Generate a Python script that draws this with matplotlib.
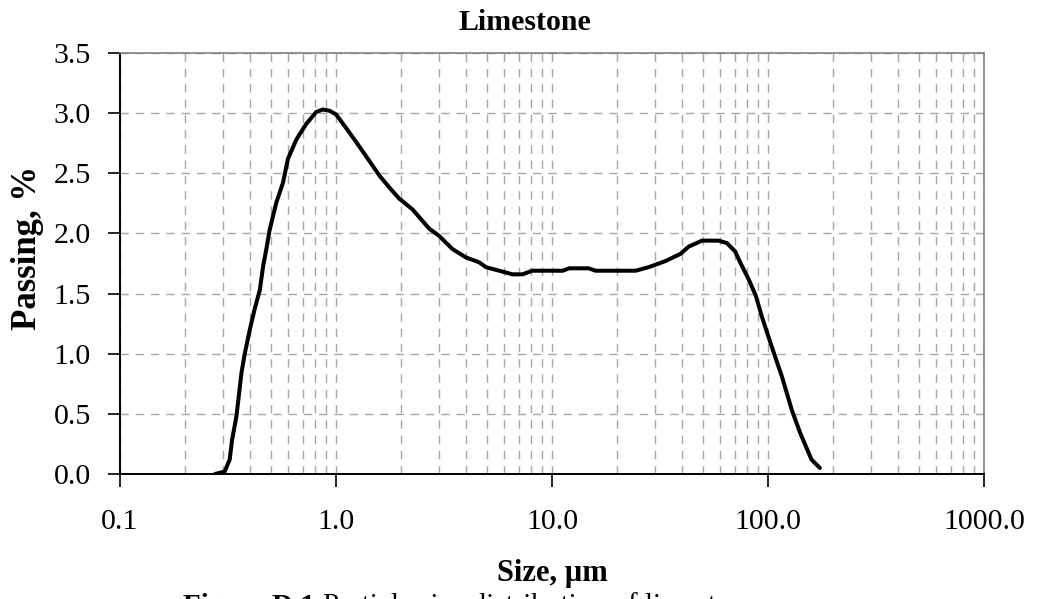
import matplotlib
matplotlib.use("Agg")
import matplotlib.pyplot as plt
from matplotlib.ticker import FixedLocator, FixedFormatter, LogLocator, NullFormatter

# ================== DATA ==================
size_um = [0.275, 0.305, 0.322, 0.33, 0.346, 0.365, 0.378, 0.399, 0.42, 0.444,
           0.46, 0.476, 0.493, 0.53, 0.568, 0.599, 0.655, 0.728, 0.81, 0.869,
           0.933, 1.0, 1.11, 1.24, 1.43, 1.59, 1.77, 1.96, 2.26, 2.7,
           3.0, 3.46, 4.0, 4.6, 4.94, 5.69, 6.56, 7.3, 8.1, 8.87,
           11.2, 12.0, 14.8, 15.9, 24.4, 28.1, 33.5, 39.3, 42.9, 49.5,
           59.0, 64.5, 70.5, 74.3, 81.3, 87.9, 93.6, 104.0, 116.0, 129.0,
           141.0, 159.0, 174.0]
passing = [0.0, 0.02, 0.12, 0.28, 0.48, 0.84, 1.0, 1.2, 1.37, 1.53,
           1.73, 1.87, 2.03, 2.26, 2.42, 2.62, 2.78, 2.91, 3.01, 3.03,
           3.02, 2.99, 2.88, 2.76, 2.6, 2.48, 2.38, 2.29, 2.2, 2.04,
           1.98, 1.87, 1.8, 1.76, 1.72, 1.69, 1.66, 1.66, 1.69, 1.69,
           1.69, 1.71, 1.71, 1.69, 1.69, 1.72, 1.77, 1.83, 1.89, 1.94,
           1.94, 1.92, 1.85, 1.76, 1.62, 1.48, 1.31, 1.06, 0.81, 0.53,
           0.34, 0.12, 0.05]

x_ticks = [0.1, 1, 10, 100, 1000]
x_labels = ["0.1", "1.0", "10.0", "100.0", "1000.0"]
y_ticks = [0.0, 0.5, 1.0, 1.5, 2.0, 2.5, 3.0, 3.5]

# ================== PLOT ==================
plt.rcParams["font.family"] = ["Liberation Serif", "DejaVu Serif"]

W, H = 1039, 599
fig = plt.figure(figsize=(W / 100, H / 100), dpi=100)
ax = fig.add_axes([120 / W, 1 - 474 / H, (984 - 120) / W, (474 - 53) / H])

grid_kw = dict(color="#a6a6a6", linestyle=(0, (6, 5)), linewidth=1.0)

ax.set_xscale("log")
ax.set_xlim(0.1, 1000)
ax.set_ylim(0, 3.5)

ax.xaxis.set_major_locator(FixedLocator(x_ticks))
ax.xaxis.set_major_formatter(FixedFormatter(x_labels))
ax.xaxis.set_minor_locator(LogLocator(base=10, subs=range(2, 10)))
ax.xaxis.set_minor_formatter(NullFormatter())
ax.set_yticks(y_ticks)
ax.set_yticklabels([f"{v:.1f}" for v in y_ticks])

ax.grid(True, which="major", axis="both", **grid_kw)
ax.grid(True, which="minor", axis="x", **grid_kw)
ax.set_axisbelow(True)

ax.plot(size_um, passing, color="black", linewidth=2.9, solid_joinstyle="round",
        solid_capstyle="round", zorder=3)

ax.tick_params(axis="both", which="major", direction="out", length=9, width=1.2,
               labelsize=21.5, color="black")
ax.tick_params(axis="x", which="minor", length=0)
ax.tick_params(axis="x", pad=16)
ax.tick_params(axis="y", pad=12)

for s in ["left", "bottom"]:
    ax.spines[s].set_color("black")
    ax.spines[s].set_linewidth(1.4)
for s in ["top", "right"]:
    ax.spines[s].set_color("#808080")
    ax.spines[s].set_linewidth(1.2)

fig.text(525 / W, 1 - 23 / H, "Limestone", ha="center", va="center",
         fontsize=21.5, fontweight="bold")
fig.text(28 / W, 1 - 248 / H, "Passing, %", ha="center", va="center",
         rotation=90, fontsize=25, fontweight="bold")
fig.text(552 / W, 1 - 574 / H, "Size, µm", ha="center", va="center",
         fontsize=22, fontweight="bold")

# caption, cut off by the bottom edge as in the source
fig.text(183 / W, 1 - 593 / H, "Figure D.1:", ha="left", va="top",
         fontsize=21, fontweight="bold")
fig.text(323 / W, 1 - 593 / H, "Particle size distribution of limestone",
         ha="left", va="top", fontsize=21)

fig.savefig("out.png", dpi=100)
